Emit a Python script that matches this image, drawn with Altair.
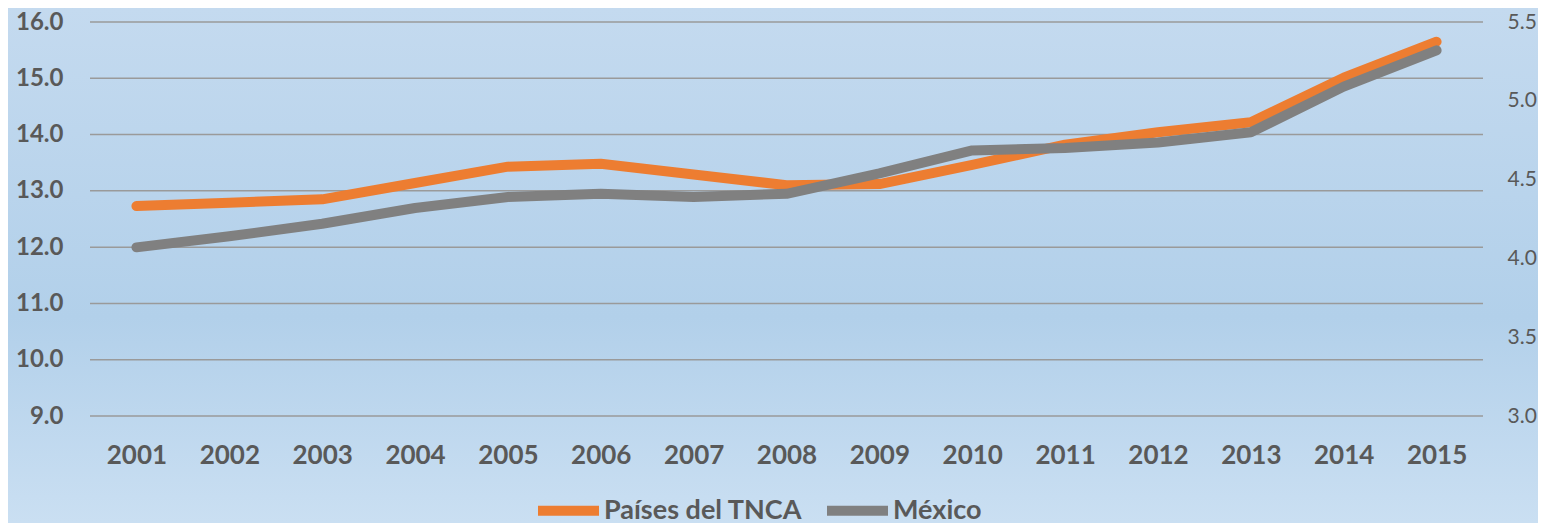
import altair as alt
import pandas as pd

years = [str(y) for y in range(2001, 2016)]
tnca = [12.73, 12.79, 12.85, 13.14, 13.43, 13.48, 13.29, 13.10, 13.12, 13.46, 13.82, 14.04, 14.22, 15.01, 15.65]
mexico = [4.07, 4.14, 4.22, 4.32, 4.39, 4.41, 4.39, 4.41, 4.54, 4.685, 4.70, 4.735, 4.80, 5.09, 5.32]
left_ticks = [9, 10, 11, 12, 13, 14, 15, 16]
right_ticks = [3, 3.5, 4, 4.5, 5, 5.5]
series_names = ["Países del TNCA", "México"]
series_colors = ["#ED7D31", "#808080"]

W, H = 1393, 394
PAD_L, PAD_T = 82, 14
PAD_R = 1530 - PAD_L - W
PAD_B = 515 - PAD_T - H

df_t = pd.DataFrame({"year": years, "value": tnca, "serie": series_names[0]})
df_m = pd.DataFrame({"year": years, "value": mexico, "serie": series_names[1]})
df_grid = pd.DataFrame({"value": left_ticks})

color = alt.Color("serie:N",
                  scale=alt.Scale(domain=series_names, range=series_colors),
                  legend=alt.Legend(title=None, orient="none", direction="horizontal",
                                    legendX=443, legendY=453, zindex=2,
                                    symbolType="stroke", symbolSize=3721,
                                    symbolStrokeWidth=10,
                                    labelFont="Lato", labelFontSize=27, labelFontWeight="bold",
                                    labelColor="#595959", labelOffset=0,
                                    columnPadding=4, padding=0, labelLimit=400))

xenc = alt.X("year:O", sort=years,
             axis=alt.Axis(title=None, labelAngle=0, labelFont="Lato", labelFontSize=26,
                           labelFontWeight="bold", labelColor="#595959", labelPadding=26,
                           ticks=False, domain=False, grid=False, zindex=2))

bg = alt.Chart(pd.DataFrame({"a": [0]})).mark_rect(
    fill=alt.LinearGradient(gradient="linear", x1=0, y1=0, x2=0, y2=1,
                            stops=[alt.GradientStop(color="#C4DAEF", offset=0),
                                   alt.GradientStop(color="#B2D0EA", offset=0.6),
                                   alt.GradientStop(color="#CADFF2", offset=1)]),
    clip=False
).encode(x=alt.value(-PAD_L), x2=alt.value(W + PAD_R),
         y=alt.value(-PAD_T), y2=alt.value(H + PAD_B))

yleft = alt.Y("value:Q", scale=alt.Scale(domain=[9, 16], nice=False, zero=False),
              axis=alt.Axis(title=None, values=left_ticks, format=".1f",
                            labelFont="Lato", labelFontSize=24, labelFontWeight="bold",
                            labelColor="#595959", labelPadding=27, ticks=False, domain=False,
                            grid=False, zindex=2))

grid = alt.Chart(df_grid).mark_rule(color="#9A9A9A", strokeWidth=1.5).encode(
    y=yleft, x=alt.value(0), x2=alt.value(W))

line_t = alt.Chart(df_t).mark_line(strokeWidth=10, strokeCap="round", strokeJoin="round").encode(
    x=xenc, y=yleft, color=color)

line_m = alt.Chart(df_m).mark_line(strokeWidth=10, strokeCap="round", strokeJoin="round").encode(
    x=xenc,
    y=alt.Y("value:Q", scale=alt.Scale(domain=[3, 5.5], nice=False, zero=False),
            axis=alt.Axis(title=None, orient="right", values=right_ticks, format=".1f",
                          labelFont="Lato", labelFontSize=21, labelColor="#595959",
                          labelPadding=24, ticks=False, domain=False, grid=False, zindex=2)),
    color=color,
)

chart = alt.layer(bg, alt.layer(grid, line_t), line_m).resolve_scale(y="independent").properties(
    width=W, height=H,
    autosize=alt.AutoSizeParams(type="none"),
    padding={"left": PAD_L, "top": PAD_T, "right": PAD_R, "bottom": PAD_B},
    background="#B9D5EC",
).configure_view(stroke=None).configure_scale(pointPadding=0.5)

chart.save("out.html", embed_options={"renderer": "svg", "actions": False})
